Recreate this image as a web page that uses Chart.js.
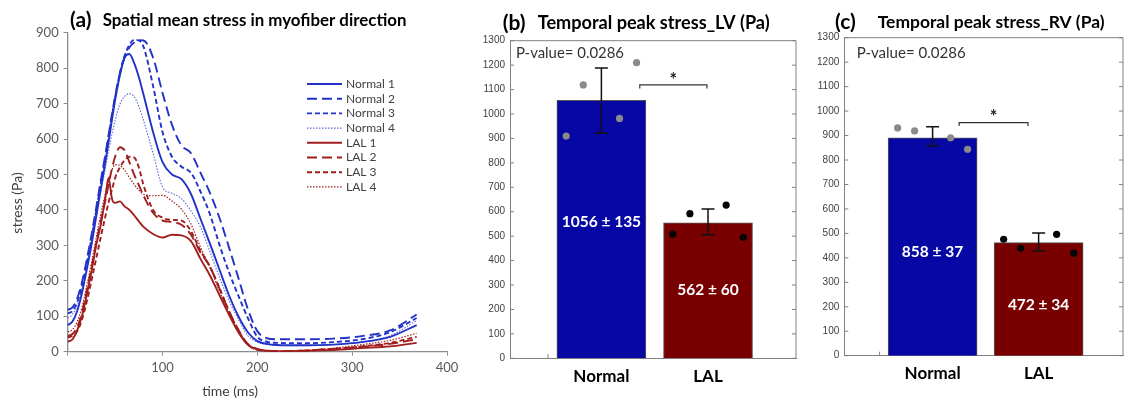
<!DOCTYPE html>
<html>
<head>
<meta charset="utf-8">
<script src="https://cdn.jsdelivr.net/npm/chart.js@4.4.1/dist/chart.umd.min.js"></script>
<style>
  html, body { margin: 0; padding: 0; background: #fff; }
  #wrap { position: relative; width: 1127px; height: 404px; overflow: hidden; background: #fff; }
  canvas { position: absolute; top: 0; }
</style>
</head>
<body>
<div id="wrap">
  <canvas id="stressLine" width="460" height="404" style="left:0"></canvas>
  <canvas id="peakLV" width="340" height="404" style="left:460px"></canvas>
  <canvas id="peakRV" width="327" height="404" style="left:800px"></canvas>
</div>
<script>
// ---- (a) spatial mean stress ----
const time = [0, 5, 10, 15, 20, 25, 30, 35, 40, 43, 47, 50, 55, 60, 65, 70, 75, 80, 90, 100, 110, 120, 130, 140, 150, 160, 170, 180, 190, 200, 210, 220, 250, 280, 310, 340, 368];

const normal1 = [75, 85, 115, 165, 230, 300, 380, 460, 540, 590, 660, 710, 780, 830, 840, 815, 775, 725, 620, 535, 500, 487, 445, 375, 305, 232, 160, 100, 55, 30, 22, 19, 18, 20, 27, 42, 75];
const normal2 = [118, 125, 150, 195, 258, 328, 405, 485, 560, 610, 675, 720, 785, 830, 858, 872, 879, 878, 830, 730, 640, 582, 560, 505, 448, 378, 295, 208, 120, 58, 38, 35, 35, 37, 44, 60, 105];
const normal3 = [108, 115, 140, 185, 248, 318, 395, 475, 555, 605, 670, 718, 785, 835, 865, 880, 878, 860, 750, 620, 550, 522, 505, 452, 388, 302, 225, 158, 95, 42, 28, 25, 24, 27, 35, 55, 95];
const normal4 = [95, 105, 130, 175, 238, 308, 385, 455, 520, 565, 618, 652, 698, 720, 728, 720, 692, 652, 560, 465, 447, 432, 397, 352, 282, 210, 145, 92, 45, 27, 20, 18, 17, 20, 27, 45, 88];
const lal1 = [28, 35, 60, 100, 160, 225, 300, 360, 440, 490, 428, 420, 424, 410, 400, 385, 368, 352, 332, 322, 330, 328, 312, 262, 215, 160, 105, 55, 20, 6, 3, 1, 2, 5, 10, 15, 25];
const lal2 = [45, 50, 70, 110, 170, 235, 305, 370, 430, 470, 520, 550, 577, 568, 535, 500, 470, 440, 392, 370, 366, 358, 330, 280, 240, 178, 115, 62, 22, 8, 3, 2, 3, 8, 14, 22, 35];
const lal3 = [40, 45, 58, 90, 140, 200, 262, 325, 385, 420, 460, 490, 520, 540, 550, 548, 520, 470, 400, 378, 372, 370, 340, 285, 240, 180, 115, 60, 20, 6, 2, 1, 3, 8, 15, 25, 42];
const lal4 = [56, 62, 85, 125, 185, 250, 320, 390, 450, 485, 515, 528, 526, 512, 492, 472, 456, 444, 440, 441, 425, 402, 360, 295, 238, 172, 108, 55, 18, 5, 2, 1, 4, 10, 20, 32, 52];

// ---- (b)/(c) temporal peak stress ----
const groups = ['Normal', 'LAL'];
const dotOffsets = [-0.33, -0.17, 0.17, 0.33];

const lvMeans = [1056, 555];
const lvErrLow = [921, 506];
const lvErrHigh = [1188, 611];
const lvNormalPts = [910, 1119, 982, 1210];
const lvLalPts = [508, 592, 627, 495];
const lvLabels = ['1056 \u00b1 135', '562 \u00b1 60'];
const lvLabelY = [559, 280];

const rvMeans = [891, 462];
const rvErrLow = [857, 428];
const rvErrHigh = [936, 502];
const rvNormalPts = [931, 919, 891, 844];
const rvLalPts = [476, 439, 496, 419];
const rvLabels = ['858 \u00b1 37', '472 \u00b1 34'];
const rvLabelY = [423, 207];

const pValue = 'P-value= 0.0286';

const SANS = 'Lato, "Open Sans", sans-serif';
const ARIAL = '"Liberation Sans", Arial, sans-serif';
const BLUE = '#2232c8';
const BLUE_LIGHT = '#5a68dc';
const RED = '#a01e1e';

const fitText = (ctx, text, x, y, width, weight, family) => {
    ctx.font = `${weight} 100px ${family}`;
    const size = 100 * width / ctx.measureText(text).width;
    ctx.font = `${weight} ${size.toFixed(2)}px ${family}`;
    ctx.fillText(text, x, y);
};

// ---------------- (a) ----------------
const stressSeries = [
    ['Normal 1', normal1, BLUE, [], 1.9],
    ['Normal 2', normal2, BLUE, [10, 5], 1.9],
    ['Normal 3', normal3, BLUE, [5, 3], 1.9],
    ['Normal 4', normal4, BLUE_LIGHT, [1.5, 1.5], 1.1],
    ['LAL 1', lal1, RED, [], 1.9],
    ['LAL 2', lal2, RED, [10, 5], 1.9],
    ['LAL 3', lal3, RED, [5, 3], 1.9],
    ['LAL 4', lal4, RED, [1.5, 1.5], 1.2]
];

const stressDecor = {
    id: 'stressDecor',
    afterDraw(chart) {
        const { ctx } = chart;
        ctx.save();
        ctx.textBaseline = 'middle';
        ctx.fillStyle = '#000';
        ctx.font = `bold 21px ${SANS}`;
        ctx.fillText('(a)', 70, 20);
        fitText(ctx, 'Spatial mean stress in myofiber direction', 102.7, 20.5, 304, 'bold', SANS);

        ctx.fillStyle = '#404040';
        ctx.font = `14px ${SANS}`;
        ctx.textAlign = 'center';
        ctx.fillText('time (ms)', 230, 391.5);
        ctx.save();
        ctx.translate(17, 203);
        ctx.rotate(-Math.PI / 2);
        ctx.fillText('stress (Pa)', 0, 0);
        ctx.restore();

        // legend inside the plot
        ctx.textAlign = 'left';
        ctx.font = `12px ${SANS}`;
        chart.data.datasets.forEach((ds, i) => {
            const y = 84 + i * 14.7;
            ctx.strokeStyle = ds.borderColor;
            ctx.lineWidth = ds.borderWidth;
            ctx.setLineDash(ds.borderDash);
            ctx.beginPath();
            ctx.moveTo(307, y);
            ctx.lineTo(342, y);
            ctx.stroke();
            ctx.setLineDash([]);
            ctx.fillStyle = '#404040';
            ctx.fillText(ds.label, 346, y);
        });
        ctx.restore();
    }
};

new Chart(document.getElementById('stressLine'), {
    type: 'line',
    data: {
        labels: time,
        datasets: stressSeries.map(([label, values, color, dash, width]) => ({
            label,
            data: values,
            borderColor: color,
            borderDash: dash,
            borderWidth: width,
            fill: false
        }))
    },
    options: {
        responsive: false,
        animation: false,
        devicePixelRatio: 1,
        events: [],
        layout: { padding: { left: 0, top: 32.7, right: 13, bottom: 0 } },
        plugins: { legend: { display: false }, tooltip: { enabled: false } },
        elements: {
            point: { radius: 0 },
            line: { cubicInterpolationMode: 'monotone' }
        },
        scales: {
            x: {
                type: 'linear',
                min: 0,
                max: 400,
                ticks: {
                    stepSize: 100,
                    callback: v => (v === 0 ? '' : String(v)),
                    font: { family: SANS, size: 13 },
                    color: '#595959',
                    padding: 4,
                    maxRotation: 0
                },
                grid: { drawOnChartArea: false, tickLength: 4, color: '#8c8c8c' },
                border: { color: '#8c8c8c', width: 1.3 },
                afterFit: s => { s.height = 52.3; s.paddingLeft = 0; s.paddingRight = 0; }
            },
            y: {
                min: 0,
                max: 900,
                ticks: {
                    stepSize: 100,
                    callback: v => String(v),
                    font: { family: SANS, size: 13 },
                    color: '#595959',
                    padding: 5
                },
                grid: { drawOnChartArea: false, tickLength: 4, color: '#8c8c8c' },
                border: { color: '#8c8c8c', width: 1.3 },
                afterFit: s => { s.width = 67.7; s.paddingTop = 0; s.paddingBottom = 0; }
            }
        }
    },
    plugins: [stressDecor]
});

// ---------------- (b) & (c) ----------------
const peakDecor = (p) => ({
    id: 'peakDecor',
    beforeDatasetsDraw(chart) {
        const { ctx, chartArea: a, scales: { x, y } } = chart;
        ctx.save();
        ctx.strokeStyle = '#808080';
        ctx.lineWidth = 1;
        ctx.beginPath();
        ctx.moveTo(a.left, a.top);
        ctx.lineTo(a.right, a.top);
        ctx.lineTo(a.right, a.bottom);
        y.ticks.forEach(t => {
            const py = y.getPixelForValue(t.value);
            ctx.moveTo(a.left, py);
            ctx.lineTo(a.left + 4, py);
            ctx.moveTo(a.right, py);
            ctx.lineTo(a.right - 4, py);
        });
        x.ticks.forEach(t => {
            const px = x.getPixelForValue(t.value);
            ctx.moveTo(px, a.bottom);
            ctx.lineTo(px, a.bottom - 4);
        });
        ctx.stroke();
        ctx.restore();
    },
    afterDatasetsDraw(chart) {
        const { ctx, scales: { x, y } } = chart;
        ctx.save();
        // error bars
        ctx.strokeStyle = '#111';
        ctx.lineWidth = 1.5;
        p.means.forEach((m, i) => {
            const px = x.getPixelForValue(i + 1);
            const top = y.getPixelForValue(p.errHigh[i]);
            const bot = y.getPixelForValue(p.errLow[i]);
            ctx.beginPath();
            ctx.moveTo(px, top); ctx.lineTo(px, bot);
            ctx.moveTo(px - 6.5, top); ctx.lineTo(px + 6.5, top);
            ctx.moveTo(px - 6.5, bot); ctx.lineTo(px + 6.5, bot);
            ctx.stroke();
        });
        // mean +- sd labels
        ctx.fillStyle = '#fff';
        ctx.textAlign = 'center';
        ctx.textBaseline = 'middle';
        ctx.font = `bold 15.5px ${SANS}`;
        p.labels.forEach((t, i) => {
            ctx.fillText(t, x.getPixelForValue(i + 1), y.getPixelForValue(p.labelY[i]));
        });
        // significance bracket
        const bx1 = x.getPixelForValue(p.bracket[0]);
        const bx2 = x.getPixelForValue(p.bracket[1]);
        const by = y.getPixelForValue(p.bracket[2]);
        ctx.strokeStyle = '#333';
        ctx.lineWidth = 1.2;
        ctx.beginPath();
        ctx.moveTo(bx1, by + 3.5); ctx.lineTo(bx1, by); ctx.lineTo(bx2, by); ctx.lineTo(bx2, by + 3.5);
        ctx.stroke();
        ctx.fillStyle = '#222';
        ctx.font = `bold 18px ${SANS}`;
        ctx.fillText('*', (bx1 + bx2) / 2, by - 5);
        ctx.restore();
    },
    afterDraw(chart) {
        const { ctx } = chart;
        ctx.save();
        ctx.textBaseline = 'middle';
        ctx.fillStyle = '#000';
        ctx.font = `bold 21px ${SANS}`;
        ctx.fillText(p.tag, p.tagX, p.titleY);
        fitText(ctx, p.title, p.titleX, p.titleY + 0.5, p.titleW, 'bold', SANS);
        ctx.fillStyle = '#333';
        fitText(ctx, pValue, p.pX, p.pY, p.pW, 'normal', SANS);
        ctx.restore();
    }
});

const peakChart = (canvasId, p) => new Chart(document.getElementById(canvasId), {
    type: 'bar',
    data: {
        datasets: [
            {
                type: 'scatter',
                data: p.normalPts.map((v, k) => ({ x: 1 + dotOffsets[k], y: v })),
                pointRadius: 3.6,
                pointBackgroundColor: '#8a8a8a',
                pointBorderWidth: 0,
                order: 0
            },
            {
                type: 'scatter',
                data: p.lalPts.map((v, k) => ({ x: 2 + dotOffsets[k], y: v })),
                pointRadius: 3.6,
                pointBackgroundColor: '#050505',
                pointBorderWidth: 0,
                order: 0
            },
            {
                data: groups.map((g, i) => ({ x: i + 1, y: p.means[i] })),
                backgroundColor: ['#0707a4', '#780000'],
                borderColor: '#555',
                borderWidth: 1,
                barThickness: 89,
                order: 1
            }
        ]
    },
    options: {
        responsive: false,
        animation: false,
        devicePixelRatio: 1,
        events: [],
        layout: { padding: { left: 0, top: p.top, right: p.right, bottom: 0 } },
        plugins: { legend: { display: false }, tooltip: { enabled: false } },
        scales: {
            x: {
                type: 'linear',
                min: p.xMin,
                max: p.xMax,
                offset: false,
                afterBuildTicks: s => { s.ticks = [0.5, 1, 2].map(v => ({ value: v })); },
                ticks: {
                    autoSkip: false,
                    maxRotation: 0,
                    callback: v => groups[v - 1] || '',
                    font: { family: SANS, size: 17, weight: 'bold' },
                    color: '#000',
                    padding: 8
                },
                grid: { display: false, drawTicks: false },
                border: { display: true, color: '#808080', width: 1 },
                afterFit: s => { s.height = p.xHeight; s.paddingLeft = 0; s.paddingRight = 0; }
            },
            y: {
                min: 0,
                max: 1300,
                ticks: {
                    stepSize: 100,
                    callback: v => String(v),
                    font: { family: ARIAL, size: 10 },
                    color: '#404040',
                    padding: 5
                },
                grid: { display: false, drawTicks: false },
                border: { display: true, color: '#808080', width: 1 },
                afterFit: s => { s.width = p.yWidth; s.paddingTop = 0; s.paddingBottom = 0; }
            }
        }
    },
    plugins: [peakDecor(p)]
});

peakChart('peakLV', {
    means: lvMeans, errLow: lvErrLow, errHigh: lvErrHigh,
    normalPts: lvNormalPts, lalPts: lvLalPts,
    labels: lvLabels, labelY: lvLabelY,
    bracket: [1.36, 1.99, 1119],
    tag: '(b)', tagX: 42.7, title: 'Temporal peak stress_LV (Pa)', titleX: 77.7, titleW: 232, titleY: 23,
    pX: 56, pY: 53, pW: 108,
    top: 40.7, right: 3, yWidth: 50, xHeight: 45.7, xMin: 0.143, xMax: 2.825
});

peakChart('peakRV', {
    means: rvMeans, errLow: rvErrLow, errHigh: rvErrHigh,
    normalPts: rvNormalPts, lalPts: rvLalPts,
    labels: rvLabels, labelY: rvLabelY,
    bracket: [1.25, 1.9, 953],
    tag: '(c)', tagX: 35, title: 'Temporal peak stress_RV (Pa)', titleX: 77.7, titleW: 227, titleY: 22,
    pX: 56.7, pY: 53.5, pW: 109,
    top: 37.7, right: 0.3, yWidth: 44.3, xHeight: 48.3, xMin: 0.167, xMax: 2.796
});
</script>
</body>
</html>
